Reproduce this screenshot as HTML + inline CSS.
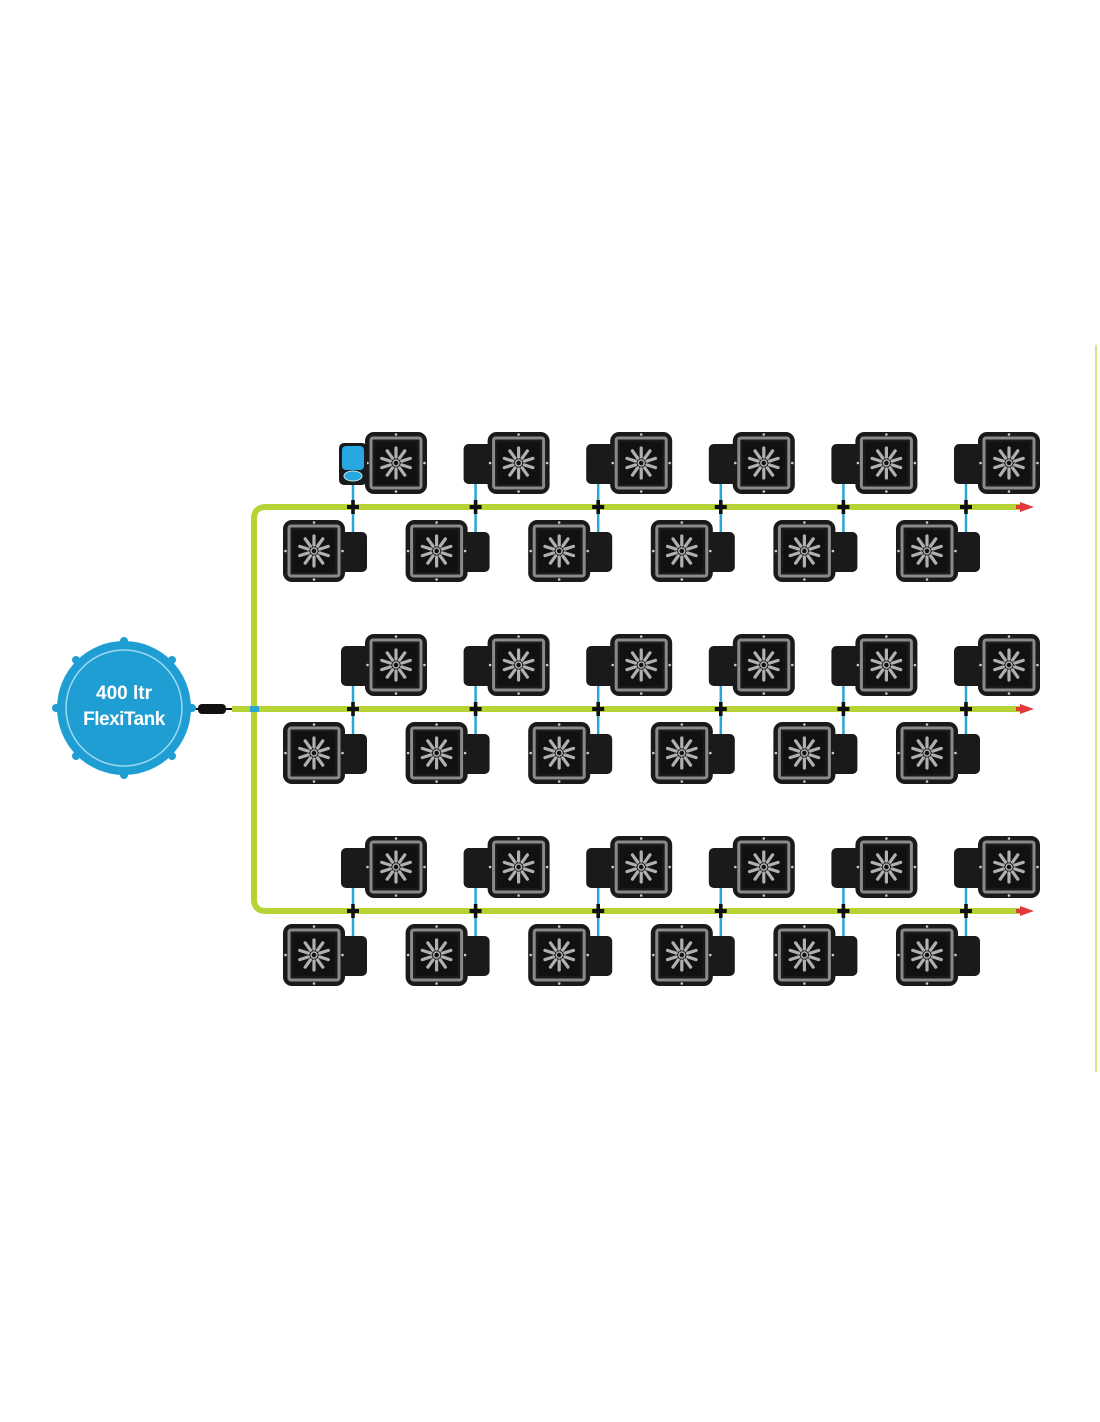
<!DOCTYPE html>
<html><head><meta charset="utf-8"><style>html,body{margin:0;padding:0;background:#fff}svg{display:block}</style></head>
<body>
<svg width="1100" height="1422" viewBox="0 0 1100 1422" xmlns="http://www.w3.org/2000/svg">
<defs>
<g id="body">
  <rect x="0" y="0" width="62" height="62" rx="9" fill="#1a1a1a"/>
  <rect x="6" y="6" width="50" height="50" rx="2" fill="none" stroke="#8a8a8a" stroke-width="3"/>
  <rect x="10" y="10" width="42" height="42" fill="#111"/>
  <g stroke="#b0b0b0" stroke-width="3.2" stroke-linecap="round" transform="translate(31,31)">
    <line x1="0" y1="-6" x2="0" y2="-15"/>
    <line x1="0" y1="-6" x2="0" y2="-15" transform="rotate(36)"/>
    <line x1="0" y1="-6" x2="0" y2="-15" transform="rotate(72)"/>
    <line x1="0" y1="-6" x2="0" y2="-15" transform="rotate(108)"/>
    <line x1="0" y1="-6" x2="0" y2="-15" transform="rotate(144)"/>
    <line x1="0" y1="-6" x2="0" y2="-15" transform="rotate(180)"/>
    <line x1="0" y1="-6" x2="0" y2="-15" transform="rotate(216)"/>
    <line x1="0" y1="-6" x2="0" y2="-15" transform="rotate(252)"/>
    <line x1="0" y1="-6" x2="0" y2="-15" transform="rotate(288)"/>
    <line x1="0" y1="-6" x2="0" y2="-15" transform="rotate(324)"/>
  </g>
  <circle cx="31" cy="31" r="3" fill="none" stroke="#b0b0b0" stroke-width="1.5"/>
  <circle cx="31" cy="2.5" r="1.3" fill="#ccc"/><circle cx="31" cy="59.5" r="1.3" fill="#ccc"/>
  <circle cx="2.5" cy="31" r="1.3" fill="#ccc"/><circle cx="59.5" cy="31" r="1.3" fill="#ccc"/>
</g>
<g id="top">
  <rect x="-24" y="12" width="30" height="40" rx="5" fill="#1a1a1a"/>
  <use href="#body"/>
</g>
<g id="bot">
  <rect x="56" y="12" width="28" height="40" rx="5" fill="#1a1a1a"/>
  <use href="#body"/>
</g>
<g id="conn">
  <line x1="0" y1="-23" x2="0" y2="25" stroke="#2aa6d6" stroke-width="2.5"/>
  <rect x="-1.8" y="-7" width="3.6" height="14" fill="#111"/>
  <rect x="-6" y="-2" width="12" height="4" fill="#111"/>
</g>
<g id="row">
  <use href="#conn" x="353" y="0"/><use href="#conn" x="475.6" y="0"/><use href="#conn" x="598.2" y="0"/>
  <use href="#conn" x="720.8" y="0"/><use href="#conn" x="843.4" y="0"/><use href="#conn" x="966" y="0"/>
  <use href="#top" x="365" y="-75"/><use href="#top" x="487.6" y="-75"/><use href="#top" x="610.2" y="-75"/>
  <use href="#top" x="732.8" y="-75"/><use href="#top" x="855.4" y="-75"/><use href="#top" x="978" y="-75"/>
  <use href="#bot" x="283" y="13"/><use href="#bot" x="405.6" y="13"/><use href="#bot" x="528.2" y="13"/>
  <use href="#bot" x="650.8" y="13"/><use href="#bot" x="773.4" y="13"/><use href="#bot" x="896" y="13"/>
  <path d="M1020 -5 L1034 0 L1020 5 Z" fill="#e03a3a"/>
  <rect x="1016" y="-2" width="8" height="4" fill="#e03a3a"/>
</g>
</defs>

<line x1="1096" y1="345" x2="1096" y2="1072" stroke="#d6e58a" stroke-width="2"/>

<!-- green mains -->
<g fill="none" stroke="#b5d334" stroke-width="6">
  <path d="M1020 507 H266 Q254 507 254 519 V899 Q254 911 266 911 H1020"/>
  <line x1="232" y1="709" x2="1020" y2="709"/>
</g>

<use href="#row" x="0" y="507"/>
<use href="#row" x="0" y="709"/>
<use href="#row" x="0" y="911"/>

<!-- blue reservoir on first pot -->
<rect x="339" y="443" width="28" height="42" rx="5" fill="#1a1a1a"/>
<rect x="342" y="446" width="22" height="24" rx="4" fill="#27a8e0"/>
<ellipse cx="353" cy="476" rx="9" ry="5" fill="#27a8e0" stroke="#bde6f7" stroke-width="1"/>

<!-- tank connector -->
<line x1="190" y1="709" x2="232" y2="709" stroke="#111" stroke-width="2"/>
<rect x="198" y="704" width="28" height="10" rx="4" fill="#111"/>
<rect x="250" y="706" width="9" height="6" fill="#2aa6d6"/>

<!-- tank -->
<g fill="#1f9ed4">
  <circle cx="124" cy="708" r="67"/>
  <circle cx="56" cy="708" r="4"/><circle cx="192" cy="708" r="4"/>
  <circle cx="124" cy="641" r="4"/><circle cx="124" cy="775" r="4"/>
  <circle cx="76" cy="660" r="4"/><circle cx="172" cy="660" r="4"/>
  <circle cx="76" cy="756" r="4"/><circle cx="172" cy="756" r="4"/>
</g>
<circle cx="124" cy="708" r="58" fill="none" stroke="#9fdaf3" stroke-width="1.5"/>
<text x="124" y="699" text-anchor="middle" font-family="Liberation Sans, sans-serif" font-weight="bold" font-size="19" fill="#fff">400 ltr</text>
<text x="124" y="725" text-anchor="middle" font-family="Liberation Sans, sans-serif" font-weight="bold" font-size="19" fill="#fff" letter-spacing="-0.5">FlexiTank</text>
</svg>
</body></html>
